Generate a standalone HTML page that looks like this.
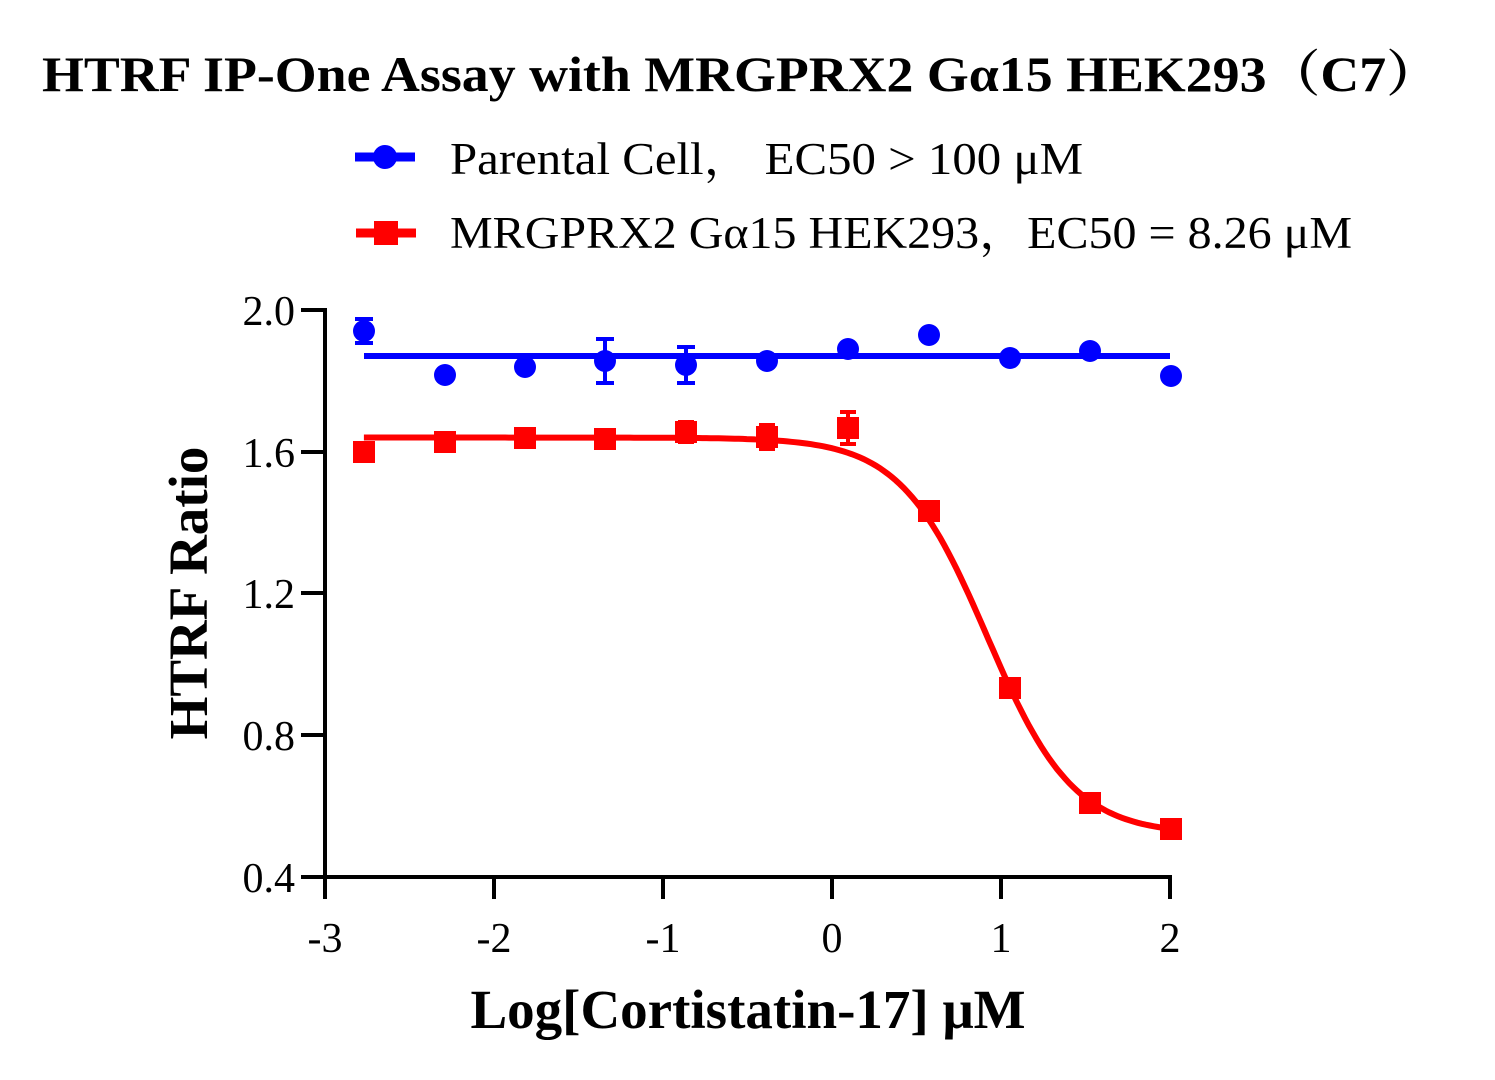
<!DOCTYPE html>
<html><head><meta charset="utf-8"><style>
html,body{margin:0;padding:0;background:#fff;}
svg{display:block;}
text{font-family:"Liberation Serif","Noto Serif CJK SC",serif;}
</style></head><body>
<svg id="s" width="1495" height="1080" viewBox="0 0 1495 1080" xmlns="http://www.w3.org/2000/svg">
<text x="42" y="91" font-size="50" font-weight="bold" textLength="1398" lengthAdjust="spacingAndGlyphs">HTRF IP-One Assay with MRGPRX2 Gα15 HEK293（C7）</text>
<line x1="355" y1="157" x2="415" y2="157" stroke="#0000ff" stroke-width="9"/>
<circle cx="385" cy="157" r="12" fill="#0000ff"/>
<text x="450" y="174" font-size="45" textLength="633" lengthAdjust="spacingAndGlyphs">Parental Cell，  EC50 &gt; 100 μM</text>
<line x1="356" y1="233" x2="416" y2="233" stroke="#ff0000" stroke-width="9"/>
<rect x="374" y="221" width="24" height="24" fill="#ff0000"/>
<text x="450" y="248" font-size="45" textLength="902" lengthAdjust="spacingAndGlyphs">MRGPRX2 Gα15 HEK293，EC50 = 8.26 μM</text>
<g stroke="#000" stroke-width="4" fill="none">
<line x1="325" y1="308" x2="325" y2="879"/>
<line x1="323" y1="877" x2="1172" y2="877"/>
<line x1="301" y1="310" x2="325" y2="310"/><line x1="301" y1="452" x2="325" y2="452"/>
<line x1="301" y1="593" x2="325" y2="593"/><line x1="301" y1="735" x2="325" y2="735"/>
<line x1="301" y1="877" x2="325" y2="877"/>
<line x1="325" y1="877" x2="325" y2="899"/><line x1="494" y1="877" x2="494" y2="899"/>
<line x1="663" y1="877" x2="663" y2="899"/><line x1="832" y1="877" x2="832" y2="899"/>
<line x1="1001" y1="877" x2="1001" y2="899"/><line x1="1170" y1="877" x2="1170" y2="899"/>
</g>
<g font-size="42" text-anchor="end">
<text x="295" y="325">2.0</text><text x="295" y="467">1.6</text><text x="295" y="608">1.2</text>
<text x="295" y="750">0.8</text><text x="295" y="892">0.4</text>
</g>
<g font-size="42" text-anchor="middle">
<text x="325" y="952">-3</text><text x="494" y="952">-2</text><text x="663" y="952">-1</text>
<text x="832" y="952">0</text><text x="1001" y="952">1</text><text x="1170" y="952">2</text>
</g>
<text x="748" y="1028" font-size="55" font-weight="bold" text-anchor="middle">Log[Cortistatin-17] μM</text>
<text transform="translate(207,593) rotate(-90)" font-size="55" font-weight="bold" text-anchor="middle">HTRF Ratio</text>
<g id="data"></g>
</svg>
<script>
var g=document.getElementById('data'),ns='http://www.w3.org/2000/svg';
function X(v){return 832+169*v;} function Y(v){return 877-(v-0.4)*354.4;}
function el(t,a){var e=document.createElementNS(ns,t);for(var k in a)e.setAttribute(k,a[k]);g.appendChild(e);return e;}
var xs=[364,445,525,605,686,767,848,929,1010,1090,1171];
var blue=[331,375,367,361,365,361,349,335,358,351,376];
var blueErr=[12,0,0,22,18,0,0,0,0,0,0];
var red=[452,442,438,439,432,437,428,511,688,803,829];
var redErr=[0,0,0,0,10,12,16,0,0,8,0];
el('line',{x1:364,y1:356,x2:1170,y2:356,stroke:'#0000ff','stroke-width':6});
var d='';
for(var i=0;i<=200;i++){var x=-2.77+i*(4.77/200);var y=0.52+1.12/(1+Math.pow(10,(x-0.917)*1.7));d+=(i?'L':'M')+X(x).toFixed(1)+' '+Y(y).toFixed(1);}
el('path',{d:d,stroke:'#ff0000','stroke-width':6,fill:'none'});
for(var i=0;i<11;i++){
 if(redErr[i]){el('path',{d:'M'+(xs[i]-8)+' '+(red[i]-redErr[i])+'H'+(xs[i]+8)+'M'+xs[i]+' '+(red[i]-redErr[i])+'V'+(red[i]+redErr[i])+'M'+(xs[i]-8)+' '+(red[i]+redErr[i])+'H'+(xs[i]+8),stroke:'#ff0000','stroke-width':4,fill:'none'});}
 el('rect',{x:xs[i]-11,y:red[i]-11,width:22,height:22,fill:'#ff0000'});
 if(blueErr[i]){el('path',{d:'M'+(xs[i]-9)+' '+(blue[i]-blueErr[i])+'H'+(xs[i]+9)+'M'+xs[i]+' '+(blue[i]-blueErr[i])+'V'+(blue[i]+blueErr[i])+'M'+(xs[i]-9)+' '+(blue[i]+blueErr[i])+'H'+(xs[i]+9),stroke:'#0000ff','stroke-width':4,fill:'none'});}
 el('circle',{cx:xs[i],cy:blue[i],r:11,fill:'#0000ff'});
}
</script>
</body></html>
